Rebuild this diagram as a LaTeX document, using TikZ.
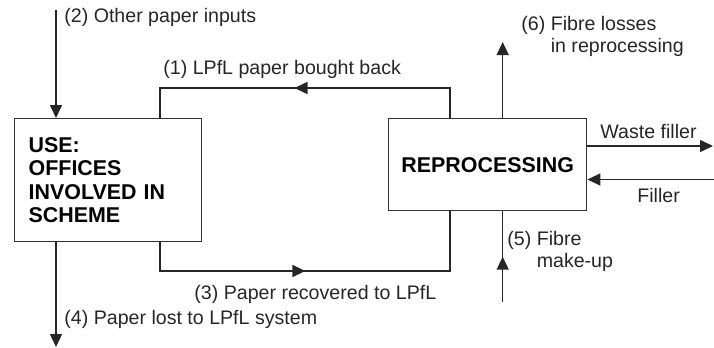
\documentclass[tikz,border=0pt]{standalone}
\usepackage{fontspec}
\setmainfont{Liberation Sans}
\usetikzlibrary{arrows.meta,decorations.markings}

\begin{document}
\begin{tikzpicture}[x=0.5pt, y=-0.5pt,
    >={Triangle[length=6.5pt,width=6pt]},
    box/.style={draw=black!80, line width=0.7pt, font=\fontsize{10.7}{11.8}\selectfont\bfseries},
    flow/.style={draw=black!85, line width=0.75pt},
    midarrow/.style={postaction={decorate, decoration={markings,
        mark=at position #1 with {\arrow{>}}}}},
    lbl/.style={font=\fontsize{9.8}{11}\selectfont, text=black!85, inner sep=1pt, anchor=west, align=left}]
  \useasboundingbox (0,0) rectangle (714,348);
  % boxes
  \node[box, anchor=north west, minimum width=93.5pt, minimum height=61.5pt,
        text width=79.5pt, inner sep=7pt, align=left] (use) at (14,118)
        {USE:\\OFFICES\\INVOLVED IN\\SCHEME};
  \node[box, anchor=north west, minimum width=99pt, minimum height=46pt] (rep) at (388,118)
        {REPROCESSING};
  % free ends
  \coordinate (in2)  at (56,10);
  \coordinate (out4) at (56,347);
  \coordinate (out6) at (502.7,42);
  \coordinate (in5)  at (502.7,302);
  \coordinate (wst)  at (713,146);
  \coordinate (fil)  at (714,179.5);
  % flows
  \draw[flow,->] (in2) -- (in2 |- use.north);
  \draw[flow,->] (use.south -| out4) -- (out4);
  \draw[flow, midarrow=0.53] (rep.north -| 450,0) |- (160,88) -- (use.north -| 160,0);
  \draw[flow, midarrow=0.46] (use.south -| 160,0) |- (450,271) -- (rep.south -| 450,0);
  \draw[flow,->] (rep.north -| out6) -- (out6);
  \draw[flow, midarrow=0.5] (in5) -- (rep.south -| in5);
  \draw[flow,->] (rep.east |- wst) -- (wst);
  \draw[flow,->] (fil) -- (rep.east |- fil);
  % labels
  \node[lbl] (l2) at (62,17) {(2) Other paper inputs};
  \node[lbl] (l1) at (161,69) {(1) LPfL paper bought back};
  \node[lbl] (l6) at (519,36) {(6) Fibre losses\\\phantom{(6) }in reprocessing};
  \node[lbl] (lw) at (598,131) {Waste filler};
  \node[lbl] (lf) at (635,195) {Filler};
  \node[lbl] (l5) at (505,251) {(5) Fibre\\\phantom{(5) }make-up};
  \node[lbl] (l3) at (192,294) {(3) Paper recovered to LPfL};
  \node[lbl] (l4) at (62,319) {(4) Paper lost to LPfL system};
\end{tikzpicture}
\end{document}
